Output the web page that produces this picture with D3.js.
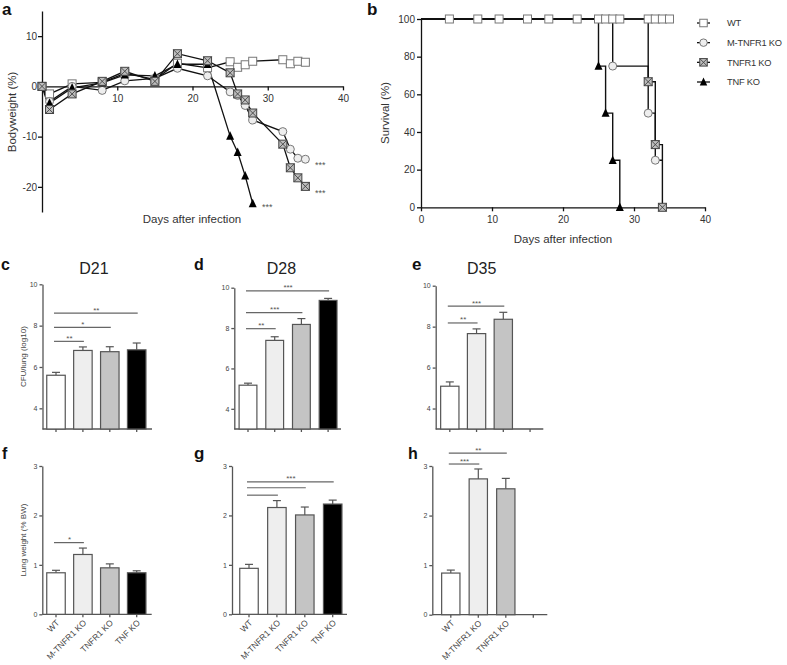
<!DOCTYPE html>
<html><head><meta charset="utf-8">
<script src="https://cdn.jsdelivr.net/npm/d3@7"></script>
<style>
body{margin:0;background:#fff}
svg{display:block}
text{font-family:"Liberation Sans",Arial,sans-serif}
</style></head>
<body><svg id="fig" width="787" height="665"></svg>
<script>
// ---------------- DATA ----------------
const groups = ["WT", "M-TNFR1 KO", "TNFR1 KO", "TNF KO"];

// panel a: bodyweight (%)
const bwDays    = [0, 1, 4, 8, 11, 15, 18, 22, 25, 26, 27, 28, 32, 33, 34, 35];
const bwWT      = [0, -1.5, 0.5, 0.8, 2.6, 1.4, 4.6, 3.7, 4.9, 3.8, 4.3, 5.0, 5.3, 4.5, 5.0, 4.8];
const bwMTNFR1  = [0, -3.0, 0.0, -0.8, 1.1, 1.6, 3.6, 2.1, -1.1, -1.8, -3.8, -6.7, -9.0, -12.5, -14.3, -14.5];
const bwTNFR1   = [0, -4.6, -1.5, 1.0, 3.0, 1.0, 6.5, 5.1, 2.7, -1.5, -2.7, -5.3, -11.5, -16.2, -18.2, -19.9];
const bwTNF     = [0, -3.3, -0.3, 0.7, 2.3, 2.1, 4.4, 4.4, -9.9, -13.1, -17.8, -23.3];
const bwTicksY  = [-20, -10, 0, 10];
const bwTicksX  = [10, 20, 30, 40];

// panel b: survival (%)
const survWTDays     = [0, 35];
const survWT         = [100, 100];
const survWTMarkDays = [4, 8, 11, 15, 18, 22, 25, 26, 27, 28, 32, 33, 34, 35];
const survMDays      = [0, 27, 32, 33, 34];
const survM          = [100, 75, 50, 25, 25];
const survMMarks     = [1, 2, 3];
const survRDays      = [0, 32, 33, 34];
const survR          = [100, 66.7, 33.3, 0];
const survRMarks     = [1, 2, 3];
const survTDays      = [0, 25, 26, 27, 28];
const survT          = [100, 75, 50, 25, 0];
const survTMarks     = [1, 2, 3, 4];
const survTicksY     = [0, 20, 40, 60, 80, 100];
const survTicksX     = [0, 10, 20, 30, 40];

// panels c-e: CFU/lung (log10)
const cfuD21 = [5.60, 6.80, 6.74, 6.83];
const cfuErrD21 = [0.14, 0.17, 0.24, 0.33];
const cfuD28 = [5.17, 7.39, 8.18, 9.37];
const cfuErrD28 = [0.10, 0.18, 0.29, 0.10];
const cfuD35 = [5.09, 7.66, 8.36];
const cfuErrD35 = [0.21, 0.23, 0.34];
const cfuTicks = [4, 6, 8, 10];
// significance: [target group index, label, bracket level]
const sigD21 = [[1, "**", 7.24], [2, "*", 7.92], [3, "**", 8.61]];
const sigD28 = [[1, "**", 7.97], [2, "***", 8.77], [3, "***", 9.84]];
const sigD35 = [[1, "**", 8.18], [2, "***", 9.0]];

// panels f-h: lung weight (% BW)
const lwD21 = [0.84, 1.21, 0.94, 0.84];
const lwErrD21 = [0.05, 0.13, 0.08, 0.04];
const lwD28 = [0.93, 2.16, 2.01, 2.23];
const lwErrD28 = [0.08, 0.14, 0.16, 0.08];
const lwD35 = [0.84, 2.74, 2.54];
const lwErrD35 = [0.06, 0.20, 0.21];
const lwTicks = [0, 1, 2, 3];
const sigLwD21 = [[1, "*", 1.45]];
const sigLwD28 = [[1, "", 2.41], [2, "", 2.56], [3, "***", 2.68]];
const sigLwD35 = [[1, "***", 3.04], [2, "**", 3.26]];

const fills = ["#ffffff", "#eeeeee", "#c4c4c4", "#000000"];

// ---------------- DRAW ----------------
const svg = d3.select("#fig");
const TXT = "#333";
const fmt = d => String(d);

function marker(g, type, x, y, s) {
  const h = s / 2;
  if (type === "square") {
    g.append("rect").attr("x", x - h).attr("y", y - h).attr("width", s).attr("height", s)
      .attr("fill", "#fff").attr("stroke", "#777").attr("stroke-width", 1);
  } else if (type === "circle") {
    g.append("circle").attr("cx", x).attr("cy", y).attr("r", h)
      .attr("fill", "#eeeeee").attr("stroke", "#777").attr("stroke-width", 1);
  } else if (type === "xsquare") {
    g.append("rect").attr("x", x - h).attr("y", y - h).attr("width", s).attr("height", s)
      .attr("fill", "#bdbdbd").attr("stroke", "#444").attr("stroke-width", 1);
    g.append("path").attr("d", `M${x-h},${y-h}L${x+h},${y+h}M${x+h},${y-h}L${x-h},${y+h}`)
      .attr("stroke", "#444").attr("stroke-width", 0.9);
  } else {
    g.append("path").attr("d", `M${x},${y-h-0.8}L${x+h},${y+h-0.3}L${x-h},${y+h-0.3}Z`).attr("fill", "#000");
  }
}

function styleAxis(ax, col, fs, fcol) {
  ax.selectAll("path,line").attr("stroke", col).attr("stroke-width", 1.3);
  ax.selectAll("text").attr("font-size", fs).attr("fill", fcol).attr("font-family", '"Liberation Sans",Arial,sans-serif');
}

function letter(t, x, y, fs, serif) {
  svg.append("text").attr("x", x).attr("y", y).text(t).attr("font-size", fs).attr("font-weight", "bold")
    .attr("fill", "#111").attr("font-family", serif ? '"Liberation Serif",serif' : '"Liberation Sans",Arial,sans-serif');
}

// ---- panel a ----
{
  const g = svg.append("g");
  const x = d3.scaleLinear().domain([0, 40]).range([42, 343]);
  const y = d3.scaleLinear().domain([-25, 15]).range([212, 11]);
  const ay = g.append("g").attr("transform", "translate(42,0)")
    .call(d3.axisLeft(y).tickValues(bwTicksY).tickFormat(fmt).tickSize(4).tickSizeOuter(0).tickPadding(1));
  styleAxis(ay, "#111", 10, TXT);
  const ax = g.append("g").attr("transform", `translate(0,${y(0)})`)
    .call(d3.axisBottom(x).tickValues(bwTicksX).tickFormat(fmt).tickSize(4).tickSizeOuter(0).tickPadding(5));
  styleAxis(ax, "#111", 10, TXT);
  const series = [
    [bwWT, "square"], [bwMTNFR1, "circle"], [bwTNF, "triangle"], [bwTNFR1, "xsquare"]
  ];
  const line = d3.line().x(d => x(d[0])).y(d => y(d[1]));
  series.forEach(([vals, type]) => {
    const pts = vals.map((v, i) => [bwDays[i], v]);
    g.append("path").attr("d", line(pts)).attr("fill", "none").attr("stroke", "#111").attr("stroke-width", 1.3);
  });
  series.forEach(([vals, type]) => {
    vals.forEach((v, i) => marker(g, type, x(bwDays[i]), y(v), 8));
  });
  g.append("text").attr("x", 315).attr("y", 167.5).text("***").attr("font-size", 9).attr("fill", "#555");
  g.append("text").attr("x", 315).attr("y", 196).text("***").attr("font-size", 9).attr("fill", "#555");
  g.append("text").attr("x", 262).attr("y", 209.5).text("***").attr("font-size", 9).attr("fill", "#555");
  g.append("text").attr("x", 192).attr("y", 223).attr("text-anchor", "middle").text("Days after infection")
    .attr("font-size", 11.5).attr("fill", TXT);
  g.append("text").attr("transform", "translate(16,112) rotate(-90)").attr("text-anchor", "middle")
    .text("Bodyweight (%)").attr("font-size", 11.5).attr("fill", TXT);
  letter("a", 2, 15, 17);
}

// ---- panel b ----
{
  const g = svg.append("g");
  const x = d3.scaleLinear().domain([0, 40]).range([421, 705]);
  const y = d3.scaleLinear().domain([0, 100]).range([207.3, 19]);
  const ay = g.append("g").attr("transform", "translate(421,0)")
    .call(d3.axisLeft(y).tickValues(survTicksY).tickFormat(fmt).tickSize(4).tickSizeOuter(0).tickPadding(2));
  styleAxis(ay, "#111", 10, TXT);
  const ax = g.append("g").attr("transform", `translate(0,${y(0)})`)
    .call(d3.axisBottom(x).tickValues(survTicksX).tickFormat(fmt).tickSize(4).tickSizeOuter(0).tickPadding(5));
  styleAxis(ax, "#111", 10, TXT);
  const step = d3.line().x(d => x(d[0])).y(d => y(d[1])).curve(d3.curveStepAfter);
  const sets = [
    [survWTDays, survWT, "square", []],
    [survMDays, survM, "circle", survMMarks],
    [survRDays, survR, "xsquare", survRMarks],
    [survTDays, survT, "triangle", survTMarks]
  ];
  sets.forEach(([days, vals]) => {
    g.append("path").attr("d", step(days.map((d, i) => [d, vals[i]])))
      .attr("fill", "none").attr("stroke", "#111").attr("stroke-width", 1.4);
  });
  survWTMarkDays.forEach(d => marker(g, "square", x(d), y(100), 8));
  sets.forEach(([days, vals, type, marks]) => {
    marks.forEach(i => marker(g, type, x(days[i]), y(vals[i]), 8));
  });
  g.append("text").attr("x", 563).attr("y", 243).attr("text-anchor", "middle").text("Days after infection")
    .attr("font-size", 11.5).attr("fill", TXT);
  g.append("text").attr("transform", "translate(389,113) rotate(-90)").attr("text-anchor", "middle")
    .text("Survival (%)").attr("font-size", 11.5).attr("fill", TXT);
  // legend
  const types = ["square", "circle", "xsquare", "triangle"];
  const ly = d3.scalePoint().domain(groups).range([23, 82]);
  groups.forEach((name, i) => {
    const yy = ly(name);
    g.append("line").attr("x1", 697).attr("x2", 710).attr("y1", yy).attr("y2", yy).attr("stroke", "#111").attr("stroke-width", 1.3);
    marker(g, types[i], 703.5, yy, 7.5);
    g.append("text").attr("x", 727).attr("y", yy + 3.4).text(name).attr("font-size", 9.3)
      .attr("letter-spacing", -0.2).attr("fill", TXT);
  });
  letter("b", 367, 15, 17);
}

// ---- bar panels ----
function barPanel(o) {
  const g = svg.append("g");
  const y = d3.scaleLinear().domain(o.domain).range([o.base, o.top]);
  const pi = 1 - o.bw / o.step;
  const x = d3.scaleBand().domain(groups)
    .range([o.c0 - o.step / 2, o.c0 + (groups.length - 0.5) * o.step])
    .paddingInner(pi).paddingOuter(pi / 2);
  const ay = g.append("g").attr("transform", `translate(${o.ax},0)`)
    .call(d3.axisLeft(y).tickValues(o.ticks).tickFormat(fmt).tickSize(3).tickSizeOuter(0).tickPadding(2));
  styleAxis(ay, "#555", 7, "#444");
  g.append("line").attr("x1", o.ax).attr("x2", o.xEnd).attr("y1", o.base).attr("y2", o.base)
    .attr("stroke", "#555").attr("stroke-width", 1.3);
  const shown = groups.slice(0, o.vals.length);
  const ax = g.append("g").attr("transform", `translate(0,${o.base})`)
    .call(d3.axisBottom(x).tickSize(3).tickSizeOuter(0)
      .tickFormat(d => (o.labels && shown.includes(d)) ? d : ""));
  ax.select(".domain").remove();
  styleAxis(ax, "#555", 8.5, "#444");
  if (o.labels) {
    ax.selectAll(".tick text").attr("y", 0).attr("dy", null).attr("x", 0)
      .attr("text-anchor", "end").attr("transform", "translate(4,9) rotate(-45)");
  } else {
    ax.selectAll(".tick text").remove();
  }
  o.vals.forEach((v, i) => {
    const cx = x(groups[i]) + x.bandwidth() / 2;
    const ye = y(v + o.err[i]);
    g.append("line").attr("x1", cx).attr("x2", cx).attr("y1", y(v)).attr("y2", ye).attr("stroke", "#555").attr("stroke-width", 1.2);
    g.append("line").attr("x1", cx - 4).attr("x2", cx + 4).attr("y1", ye).attr("y2", ye).attr("stroke", "#555").attr("stroke-width", 1.2);
    g.append("rect").attr("x", x(groups[i])).attr("width", x.bandwidth())
      .attr("y", y(v)).attr("height", o.base - y(v))
      .attr("fill", fills[i]).attr("stroke", "#555").attr("stroke-width", 1.2);
  });
  const c0 = x(groups[0]) + x.bandwidth() / 2;
  o.sig.forEach(([t, lab, lev]) => {
    const ct = x(groups[t]) + x.bandwidth() / 2;
    const yy = y(lev);
    g.append("line").attr("x1", c0 - 2).attr("x2", ct + 1).attr("y1", yy).attr("y2", yy).attr("stroke", "#666").attr("stroke-width", 1.2);
    if (lab) g.append("text").attr("x", (c0 + ct) / 2).attr("y", yy - 0.5).attr("text-anchor", "middle")
      .text(lab).attr("font-size", 8).attr("fill", "#555");
  });
  if (o.title) g.append("text").attr("x", o.titleX).attr("y", 274).attr("text-anchor", "middle")
    .text(o.title).attr("font-size", 16).attr("fill", "#222");
  if (o.ylab) g.append("text").attr("transform", `translate(26,${(o.base + o.top) / 2}) rotate(-90)`)
    .attr("text-anchor", "middle").text(o.ylab).attr("font-size", 8).attr("fill", "#444");
}

barPanel({ax: 42.5, xEnd: 152, c0: 56, step: 26.9, bw: 18.5, domain: [3, 10], base: 429, top: 284.3,
  ticks: cfuTicks, vals: cfuD21, err: cfuErrD21, sig: sigD21, title: "D21", titleX: 94, ylab: "CFU/lung (log10)"});
barPanel({ax: 234.3, xEnd: 341, c0: 248, step: 26.7, bw: 17.8, domain: [3, 10], base: 429, top: 287.7,
  ticks: cfuTicks, vals: cfuD28, err: cfuErrD28, sig: sigD28, title: "D28", titleX: 281.5});
barPanel({ax: 435.7, xEnd: 543.3, c0: 449.8, step: 26.75, bw: 18.3, domain: [3, 10], base: 429, top: 285.7,
  ticks: cfuTicks, vals: cfuD35, err: cfuErrD35, sig: sigD35, title: "D35", titleX: 481.7});
barPanel({ax: 42.3, xEnd: 151.7, c0: 56, step: 26.9, bw: 18.5, domain: [0, 3], base: 614.3, top: 466,
  ticks: lwTicks, vals: lwD21, err: lwErrD21, sig: sigLwD21, labels: true, ylab: "Lung weight (% BW)"});
barPanel({ax: 232, xEnd: 347, c0: 249, step: 27.9, bw: 18.5, domain: [0, 3], base: 614.3, top: 466,
  ticks: lwTicks, vals: lwD28, err: lwErrD28, sig: sigLwD28, labels: true});
barPanel({ax: 432.3, xEnd: 547.3, c0: 450.8, step: 27.5, bw: 18.3, domain: [0, 3], base: 614.7, top: 466,
  ticks: lwTicks, vals: lwD35, err: lwErrD35, sig: sigLwD35, labels: true});

letter("c", 1, 270, 16);
letter("d", 194, 270, 16);
letter("e", 412, 270, 17, true);
letter("f", 2, 459, 16);
letter("g", 194, 459, 17, true);
letter("h", 408, 459, 16);
</script></body></html>
